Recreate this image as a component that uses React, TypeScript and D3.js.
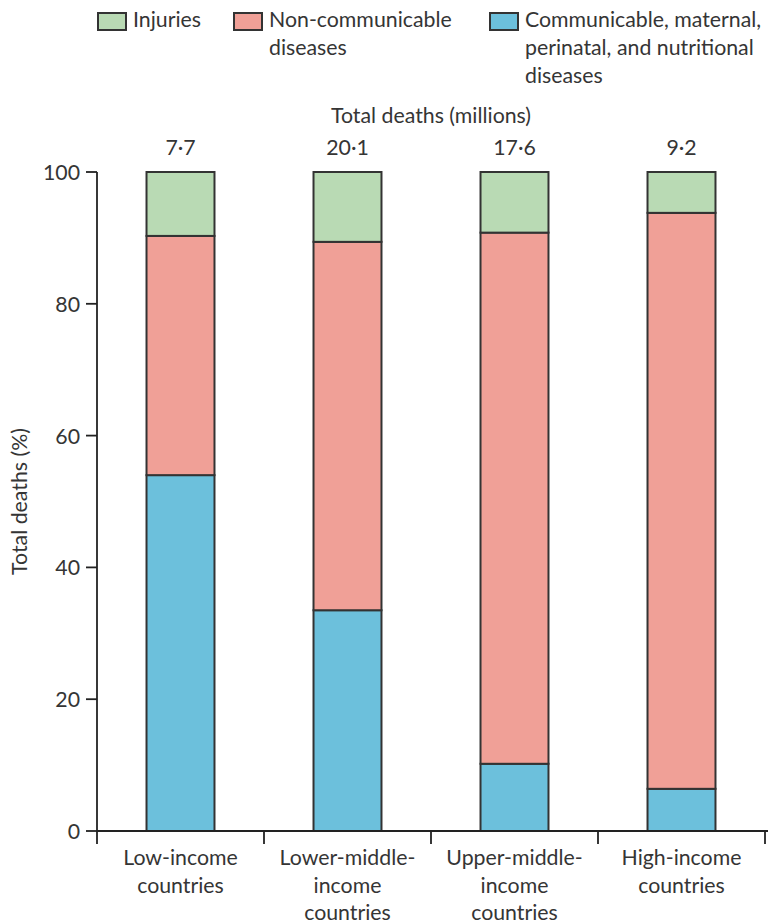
import React from "react";
import * as d3 from "d3";

const categories = [
  ["Low-income", "countries"],
  ["Lower-middle-", "income", "countries"],
  ["Upper-middle-", "income", "countries"],
  ["High-income", "countries"],
];
const totalDeaths = ["7·7", "20·1", "17·6", "9·2"];
const communicable = [54.0, 33.5, 10.2, 6.4];
const nonCommunicable = [36.3, 55.9, 80.6, 87.4];
const injuries = [9.7, 10.6, 9.2, 6.2];
const yTicks = [0, 20, 40, 60, 80, 100];

const seriesKeys = ["communicable", "nonCommunicable", "injuries"];
const colors: Record<string, string> = {
  communicable: "#6cc0dc",
  nonCommunicable: "#f0a097",
  injuries: "#b9dab4",
};

const legendItems = [
  { key: "injuries", lines: ["Injuries"], x: 97 },
  { key: "nonCommunicable", lines: ["Non-communicable", "diseases"], x: 233 },
  { key: "communicable", lines: ["Communicable, maternal,", "perinatal, and nutritional", "diseases"], x: 489 },
];

export default function App() {
  const W = 768, H = 924;
  const font = "Lato, 'Open Sans', sans-serif";
  const fs = 21.3;
  const textColor = "#353535";
  const x = d3
    .scaleBand<number>()
    .domain(categories.map((_, i) => i))
    .range([97, 765])
    .paddingInner(0.593)
    .paddingOuter(0.2965);
  const y = d3.scaleLinear().domain([0, 100]).range([831, 172]);

  const table = categories.map((_, i) => ({
    communicable: communicable[i],
    nonCommunicable: nonCommunicable[i],
    injuries: injuries[i],
  }));
  const stacked = d3.stack<any>().keys(seriesKeys)(table);

  const boundaries = [
    x.range()[0],
    ...categories.map((_, i) => (x(i) as number) + x.bandwidth() + (x.step() * x.paddingInner()) / 2),
  ];

  return (
    <svg width={W} height={H} style={{ position: "absolute", left: 0, top: 0, background: "#fff" }} fontFamily={font}>
      {/* legend */}
      {legendItems.map((it) => (
        <g key={it.key}>
          <rect x={it.x + 1} y={13} width={28} height={17} fill={colors[it.key]} stroke="#333" strokeWidth={2} />
          {it.lines.map((l, j) => (
            <text key={j} x={it.x + 36} y={27 + j * 28} fontSize={fs} fill={textColor}>
              {l}
            </text>
          ))}
        </g>
      ))}
      {/* top labels */}
      <text x={431} y={123} textAnchor="middle" fontSize={fs} fill={textColor}>
        Total deaths (millions)
      </text>
      {totalDeaths.map((t, i) => (
        <text key={i} x={(x(i) as number) + x.bandwidth() / 2} y={155} textAnchor="middle" fontSize={fs} fill={textColor}>
          {t}
        </text>
      ))}
      {/* bars */}
      {stacked.map((s) => (
        <g key={s.key}>
          {s.map((d, i) => (
            <rect
              key={i}
              x={x(i)}
              y={y(d[1])}
              width={x.bandwidth()}
              height={y(d[0]) - y(d[1])}
              fill={colors[s.key]}
              stroke="#333"
              strokeWidth={2}
            />
          ))}
        </g>
      ))}
      {/* y axis */}
      <line x1={97} x2={97} y1={y(100)} y2={y(0)} stroke="#222" strokeWidth={1.8} />
      {yTicks.map((t) => (
        <g key={t}>
          <line x1={86} x2={97} y1={y(t)} y2={y(t)} stroke="#222" strokeWidth={1.8} />
          <text x={80} y={y(t) + 8} textAnchor="end" fontSize={fs} fill={textColor}>
            {t}
          </text>
        </g>
      ))}
      <text
        transform={`translate(27,${y(50)}) rotate(-90)`}
        textAnchor="middle"
        fontSize={fs}
        fill={textColor}
      >
        Total deaths (%)
      </text>
      {/* x axis */}
      <line x1={97} x2={768} y1={y(0)} y2={y(0)} stroke="#222" strokeWidth={1.8} />
      {boundaries.map((b, i) => (
        <line key={i} x1={b} x2={b} y1={y(0)} y2={y(0) + 13} stroke="#222" strokeWidth={1.8} />
      ))}
      {categories.map((lines, i) => (
        <g key={i}>
          {lines.map((l, j) => (
            <text
              key={j}
              x={(x(i) as number) + x.bandwidth() / 2}
              y={865 + j * 27.5}
              textAnchor="middle"
              fontSize={fs}
              fill={textColor}
            >
              {l}
            </text>
          ))}
        </g>
      ))}
    </svg>
  );
}
